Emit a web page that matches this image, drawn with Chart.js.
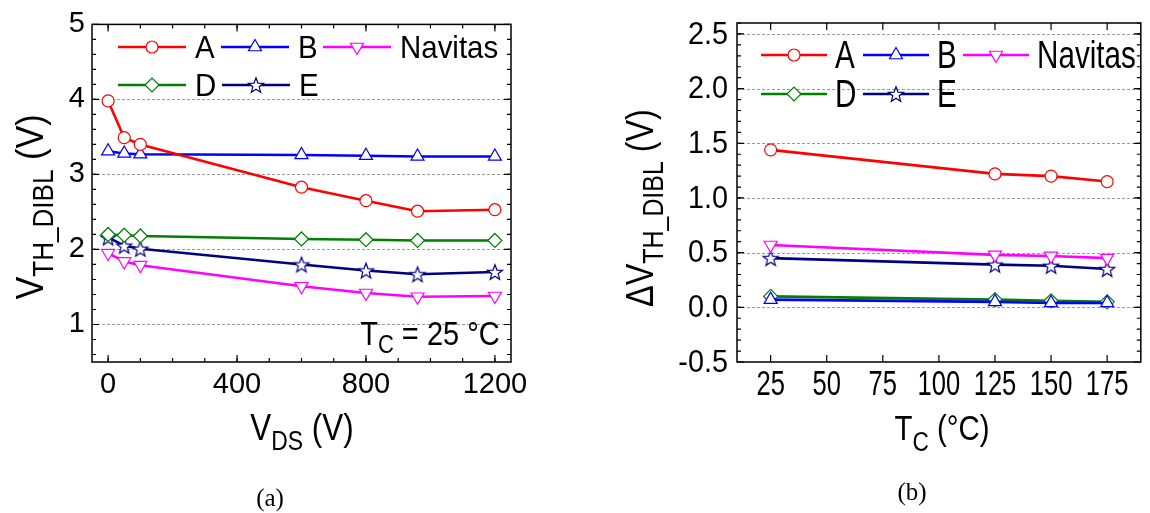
<!DOCTYPE html>
<html>
<head>
<meta charset="UTF-8">
<title>VTH_DIBL vs VDS and TC</title>
<script src="https://cdn.jsdelivr.net/npm/chart.js@4"></script>
<style>
  body { margin: 0; background: #fff; width: 1150px; height: 513px; overflow: hidden; }
  canvas { position: absolute; top: 0; }
  #ca { left: 0; }
  #cb { left: 575px; }
</style>
</head>
<body>
<canvas id="ca" width="575" height="513"></canvas>
<canvas id="cb" width="575" height="513"></canvas>
<script>
// ---- data ----
const seriesNames = ['A', 'B', 'Navitas', 'D', 'E'];

// (a) VTH_DIBL vs VDS, TC = 25 C
const vds = [0, 50, 100, 600, 800, 960, 1200];
const vthA = [3.98, 3.49, 3.40, 2.83, 2.65, 2.51, 2.53];
const vthB = [3.31, 3.28, 3.27, 3.26, 3.25, 3.24, 3.24];
const vthNavitas = [1.95, 1.84, 1.79, 1.51, 1.42, 1.37, 1.38];
const vthD = [2.20, 2.19, 2.18, 2.14, 2.13, 2.12, 2.12];
const vthE = [2.16, 2.05, 2.01, 1.80, 1.72, 1.67, 1.70];

// (b) delta VTH_DIBL vs TC
const tc = [25, 125, 150, 175];
const dA = [1.44, 1.22, 1.20, 1.15];
const dB = [0.07, 0.05, 0.04, 0.04];
const dNavitas = [0.57, 0.48, 0.47, 0.45];
const dD = [0.10, 0.07, 0.06, 0.05];
const dE = [0.45, 0.39, 0.38, 0.35];

// axis ticks
const xTicksA = [0, 400, 800, 1200];
const yTicksA = [1, 2, 3, 4, 5];
const xTicksB = [25, 50, 75, 100, 125, 150, 175];
const yTicksB = [-0.5, 0.0, 0.5, 1.0, 1.5, 2.0, 2.5];

// ---- styling ----
const SANS = "'Liberation Sans', Arial, sans-serif";
const SERIF = "'Liberation Serif', 'Times New Roman', serif";

function starImage(color, r) {
  const c = document.createElement('canvas');
  const s = Math.ceil(r * 2 + 4);
  c.width = c.height = s;
  const g = c.getContext('2d');
  g.beginPath();
  for (let i = 0; i < 10; i++) {
    const rr = i % 2 ? r * 0.42 : r;
    const a = -Math.PI / 2 + i * Math.PI / 5;
    g.lineTo(s / 2 + rr * Math.cos(a), s / 2 + 0.8 + rr * Math.sin(a));
  }
  g.closePath();
  g.fillStyle = '#fff';
  g.fill();
  g.lineWidth = 1.2;
  g.strokeStyle = color;
  g.stroke();
  return c;
}

const styles = {
  A:       { color: '#ff0000', pointStyle: 'circle',   radius: 6,   rotation: 0 },
  B:       { color: '#0000ff', pointStyle: 'triangle', radius: 7.5, rotation: 0 },
  Navitas: { color: '#ff00ff', pointStyle: 'triangle', radius: 7.5, rotation: 180 },
  D:       { color: '#008000', pointStyle: 'rectRot',  radius: 7,   rotation: 0 },
  E:       { color: '#000080', pointStyle: starImage('#000080', 8), radius: 8, rotation: 0 }
};

function makeSets(xs, ys) {
  return seriesNames.map((name, i) => {
    const st = styles[name];
    return {
      label: name,
      data: xs.map((x, k) => ({ x: x, y: ys[i][k] })),
      borderColor: st.color,
      backgroundColor: st.color,
      borderWidth: 2.6,
      tension: 0,
      pointStyle: st.pointStyle,
      pointRadius: st.radius,
      pointRotation: st.rotation,
      pointBackgroundColor: '#fff',
      pointBorderColor: st.color,
      pointBorderWidth: 1.2,
      clip: false
    };
  });
}

// text with subscripts, squeezed horizontally by sx
function drawRich(ctx, parts, cx, base, sx) {
  let w = 0;
  parts.forEach(p => { ctx.font = p.font; w += ctx.measureText(p.t).width; });
  ctx.save();
  ctx.translate(cx - w * sx / 2, base);
  ctx.scale(sx, 1);
  ctx.textAlign = 'left';
  ctx.textBaseline = 'alphabetic';
  let x = 0;
  parts.forEach(p => {
    ctx.font = p.font;
    ctx.fillText(p.t, x, p.dy || 0);
    x += ctx.measureText(p.t).width;
  });
  ctx.restore();
}

function squeezedText(ctx, text, x, y, sx, align) {
  ctx.save();
  ctx.translate(x, y);
  ctx.scale(sx, 1);
  ctx.textAlign = align;
  ctx.fillText(text, 0, 0);
  ctx.restore();
}

const decoPlugin = {
  id: 'deco',
  beforeDatasetsDraw(chart, args, o) {
    const { ctx, chartArea: ca, scales: { y } } = chart;
    ctx.save();
    ctx.strokeStyle = '#9a9a9a';
    ctx.lineWidth = 1;
    ctx.setLineDash([3, 2]);
    o.grid.forEach(v => {
      const py = Math.round(y.getPixelForValue(v)) + 0.5;
      ctx.beginPath(); ctx.moveTo(ca.left, py); ctx.lineTo(ca.right, py); ctx.stroke();
    });
    ctx.restore();
  },
  afterDatasetsDraw(chart, args, o) {
    const { ctx, chartArea: ca, scales: { x, y } } = chart;
    ctx.save();
    ctx.strokeStyle = '#000';
    ctx.lineWidth = 1.5;
    ctx.strokeRect(ca.left, ca.top, ca.right - ca.left, ca.bottom - ca.top);
    ctx.lineWidth = 1.2;
    const tick = (v, len, axis) => {
      ctx.beginPath();
      if (axis === 'x') {
        const px = x.getPixelForValue(v);
        ctx.moveTo(px, ca.bottom); ctx.lineTo(px, ca.bottom - len);
        ctx.moveTo(px, ca.top); ctx.lineTo(px, ca.top + len);
      } else {
        const py = y.getPixelForValue(v);
        ctx.moveTo(ca.left, py); ctx.lineTo(ca.left + len, py);
        ctx.moveTo(ca.right, py); ctx.lineTo(ca.right - len, py);
      }
      ctx.stroke();
    };
    o.xMinor.forEach(v => tick(v, 4, 'x'));
    o.xMajor.forEach(v => tick(v, 7, 'x'));
    o.yMinor.forEach(v => tick(v, 4, 'y'));
    o.yMajor.forEach(v => tick(v, 7, 'y'));

    ctx.fillStyle = '#000';
    // condensed tick labels
    if (o.tickText) {
      const tt = o.tickText;
      ctx.textBaseline = 'alphabetic';
      ctx.font = tt.xFont;
      x.ticks.forEach(t => squeezedText(ctx, String(t.value), x.getPixelForValue(t.value), tt.xBase, tt.xSx, 'center'));
      ctx.font = tt.yFont;
      ctx.textBaseline = 'middle';
      y.ticks.forEach(t => squeezedText(ctx, t.value.toFixed(1), tt.yRight, y.getPixelForValue(t.value) + 1, tt.ySx, 'right'));
    }

    // legend
    const lg = o.legend;
    lg.items.forEach(it => {
      const ds = chart.data.datasets[it.i];
      ctx.strokeStyle = ds.borderColor;
      ctx.lineWidth = ds.borderWidth;
      ctx.beginPath(); ctx.moveTo(it.x, it.y); ctx.lineTo(it.x + lg.len, it.y); ctx.stroke();
      ctx.fillStyle = '#fff';
      ctx.strokeStyle = ds.pointBorderColor;
      ctx.lineWidth = ds.pointBorderWidth;
      Chart.helpers.drawPoint(ctx, {
        pointStyle: ds.pointStyle, radius: ds.pointRadius,
        rotation: ds.pointRotation, borderWidth: ds.pointBorderWidth
      }, it.x + lg.len / 2, it.y);
      ctx.fillStyle = '#000';
      ctx.font = lg.font;
      ctx.textBaseline = 'middle';
      squeezedText(ctx, ds.label, it.x + lg.len + lg.gap, it.y + 2, lg.sx, 'left');
    });

    // titles and notes
    ctx.fillStyle = '#000';
    o.texts.forEach(t => {
      ctx.save();
      ctx.translate(t.x, t.y);
      if (t.rot) ctx.rotate(-Math.PI / 2);
      drawRich(ctx, t.parts, 0, 0, t.sx || 1);
      ctx.restore();
    });
    ctx.restore();
  }
};

function steps(from, to, step) {
  const out = [];
  for (let v = from; v <= to + 1e-9; v += step) out.push(+v.toFixed(4));
  return out;
}

function fixTicks(list) {
  return scale => { scale.ticks = list.map(v => ({ value: v })); };
}

// ---- chart (a) ----
new Chart(document.getElementById('ca'), {
  type: 'line',
  data: { datasets: makeSets(vds, [vthA, vthB, vthNavitas, vthD, vthE]) },
  plugins: [decoPlugin],
  options: {
    responsive: false,
    animation: false,
    layout: { padding: { top: 24, right: 64, left: 0, bottom: 0 } },
    plugins: {
      legend: { display: false },
      tooltip: { enabled: false },
      deco: {
        grid: [1, 2, 3, 4],
        xMajor: xTicksA, xMinor: steps(0, 1200, 100),
        yMajor: yTicksA, yMinor: steps(0.6, 4.8, 0.2),
        legend: {
          len: 68, gap: 9, font: '32px ' + SANS, sx: 0.92,
          items: [
            { i: 0, x: 118, y: 47 }, { i: 1, x: 221, y: 47 }, { i: 2, x: 323, y: 47 },
            { i: 3, x: 118, y: 85 }, { i: 4, x: 222, y: 85 }
          ]
        },
        texts: [
          { x: 43, y: 207, rot: true, sx: 0.9, parts: [
            { t: 'V', font: '38px ' + SANS },
            { t: 'TH_DIBL', font: '29px ' + SANS, dy: 10 },
            { t: ' (V)', font: '38px ' + SANS }
          ] },
          { x: 302, y: 440, sx: 0.85, parts: [
            { t: 'V', font: '37px ' + SANS },
            { t: 'DS', font: '27px ' + SANS, dy: 10 },
            { t: ' (V)', font: '37px ' + SANS }
          ] },
          { x: 430, y: 345, sx: 0.88, parts: [
            { t: 'T', font: '33px ' + SANS },
            { t: 'C', font: '25px ' + SANS, dy: 8 },
            { t: ' = 25 \u00B0C', font: '33px ' + SANS }
          ] },
          { x: 270, y: 506, parts: [{ t: '(a)', font: '25px ' + SERIF }] }
        ]
      }
    },
    scales: {
      x: {
        type: 'linear', min: -50, max: 1250,
        afterBuildTicks: fixTicks(xTicksA),
        afterFit: s => { s.height = 151; },
        grid: { display: false, drawTicks: false },
        border: { display: false },
        ticks: {
          color: '#000', padding: 6, maxRotation: 0, font: { family: SANS, size: 29 },
          callback: v => String(v)
        }
      },
      y: {
        type: 'linear', min: 0.5, max: 5,
        afterBuildTicks: fixTicks(yTicksA),
        afterFit: s => { s.width = 92; },
        grid: { display: false, drawTicks: false },
        border: { display: false },
        ticks: { color: '#000', padding: 7, font: { family: SANS, size: 29 } }
      }
    }
  }
});

// ---- chart (b) ----
new Chart(document.getElementById('cb'), {
  type: 'line',
  data: { datasets: makeSets(tc, [dA, dB, dNavitas, dD, dE]) },
  plugins: [decoPlugin],
  options: {
    responsive: false,
    animation: false,
    layout: { padding: { top: 23, right: 1, left: 0, bottom: 0 } },
    plugins: {
      legend: { display: false },
      tooltip: { enabled: false },
      deco: {
        grid: [0, 0.5, 1, 1.5, 2, 2.5],
        xMajor: xTicksB, xMinor: [],
        yMajor: yTicksB, yMinor: steps(-0.4, 2.6, 0.1),
        tickText: {
          xFont: '35px ' + SANS, xSx: 0.73, xBase: 395,
          yFont: '32px ' + SANS, ySx: 0.9, yRight: 153
        },
        legend: {
          len: 66, gap: 8, font: '39px ' + SANS, sx: 0.76,
          items: [
            { i: 0, x: 186, y: 55 }, { i: 1, x: 288, y: 55 }, { i: 2, x: 388, y: 55 },
            { i: 3, x: 186, y: 94 }, { i: 4, x: 288, y: 94 }
          ]
        },
        texts: [
          { x: 78, y: 208, rot: true, sx: 0.83, parts: [
            { t: '\u0394V', font: '39px ' + SANS },
            { t: 'TH_DIBL', font: '30px ' + SANS, dy: 10 },
            { t: ' (V)', font: '39px ' + SANS }
          ] },
          { x: 367, y: 440, sx: 0.84, parts: [
            { t: 'T', font: '35px ' + SANS },
            { t: 'C', font: '27px ' + SANS, dy: 11 },
            { t: ' (\u00B0C)', font: '35px ' + SANS }
          ] },
          { x: 337, y: 500, parts: [{ t: '(b)', font: '25px ' + SERIF }] }
        ]
      }
    },
    scales: {
      x: {
        type: 'linear', min: 10, max: 190,
        afterBuildTicks: fixTicks(xTicksB),
        afterFit: s => { s.height = 151; },
        grid: { display: false, drawTicks: false },
        border: { display: false },
        ticks: { display: false }
      },
      y: {
        type: 'linear', min: -0.5, max: 2.6,
        afterBuildTicks: fixTicks(yTicksB),
        afterFit: s => { s.width = 162; },
        grid: { display: false, drawTicks: false },
        border: { display: false },
        ticks: { display: false }
      }
    }
  }
});
</script>
</body>
</html>
